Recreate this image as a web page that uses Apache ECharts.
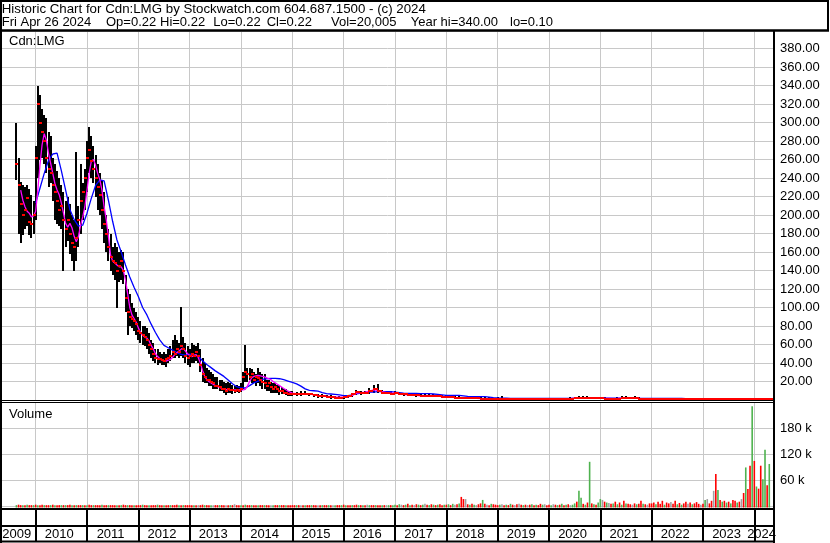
<!DOCTYPE html>
<html><head><meta charset="utf-8">
<script src="https://cdn.jsdelivr.net/npm/echarts@6/dist/echarts.min.js"></script>
<style>html,body{margin:0;padding:0;background:#fff}#c{width:830px;height:543px}</style>
</head><body><div id="c"></div>
<script>
// ================= DATA =================
const titleLine1 = 'Historic Chart for Cdn:LMG by Stockwatch.com 604.687.1500 - (c) 2024';
const infoFields = ['Fri Apr 26 2024', 'Op=0.22', 'Hi=0.22', 'Lo=0.22', 'Cl=0.22', 'Vol=20,005', 'Year hi=340.00', 'lo=0.10'];
const symbolLabel = 'Cdn:LMG';
const volumeLabel = 'Volume';
const yearTicks = [2010, 2011, 2012, 2013, 2014, 2015, 2016, 2017, 2018, 2019, 2020, 2021, 2022, 2023, 2024];
const yearLabels = ['2009', '2010', '2011', '2012', '2013', '2014', '2015', '2016', '2017', '2018', '2019', '2020', '2021', '2022', '2023', '2024'];
const axisStart = 2009.344, axisEnd = 2024.364;

// price bars, segment 1: half-monthly from Aug 2009
const seg1Start = 2009.625, seg1Step = 1 / 24;
const seg1High = [300,262,236,232,230,232,228,222,215,
 275,340,330,315,308,305,290,285,262,255,248,240,232,225,215,220,212,200,195,268,210,255,235,250,
 280,295,285,275,265,255,245,238,225,200,185,180,165,170,165,160,162,160,135,120,115,105,100,95,
 90,85,80,80,78,72,65,62,55,55,52,50,52,50,55,58,65,70,65,62,101,68,62,58,
 55,62,60,58,62,55,45,40,35,32,30,28,25,25,22,22,20,18,20,18,16,15,16,15,
 18,30,60,35,35,34,30,28,35,30,28,28,22,22,20,18,18,16,16,14,12,12,10,10];
const seg1Low = [238,180,170,178,185,188,178,175,180,
 195,240,260,262,255,245,230,235,215,195,190,188,185,140,165,172,158,150,140,150,165,180,195,205,
 225,245,240,235,220,205,200,185,170,160,150,140,135,130,100,128,130,125,95,70,80,78,75,70,
 65,62,60,58,55,50,45,42,40,38,40,38,38,36,40,42,45,45,48,45,48,45,40,38,
 36,40,40,42,40,30,20,18,18,15,15,12,12,12,10,10,8,5,8,8,7,8,9,8,
 9,12,20,20,22,18,18,15,18,15,12,12,10,10,8,8,8,8,5,6,6,5,4,4];
const seg1Close = [255,232,212,200,205,218,192,190,200,
 262,320,300,290,280,262,250,245,232,225,215,205,210,195,185,195,180,170,165,175,195,215,225,240,
 262,270,258,250,240,230,222,205,190,180,165,155,150,148,140,145,150,140,110,95,90,88,85,82,
 75,72,70,68,65,60,55,50,45,44,44,43,42,44,45,48,52,50,55,52,58,55,48,45,
 48,50,48,52,48,38,28,25,22,22,20,18,15,15,14,12,12,10,12,11,11,10,11,10,
 12,25,30,28,25,28,22,25,24,22,20,18,15,18,14,12,14,12,10,10,8,8,7,6];

// price bars, segment 2: monthly from Jan 2015
const seg2Start = 2015.0, seg2Step = 1 / 12;
const seg2High = [10,9,10,10,8,7,6,6,5,5,4,4,
 4,5,8,11,10,10,13,16,17,11,10,10,
 10,9,8,7,7,6,6,6,6,6,6,5,
 5,4.5,4,4,3.5,3.5,3.5,3,3,3,3,2.5,
 3.5,4,2.5,2.2,2,2,2,2,2,1.8,1.8,1.8,
 1.8,1.6,1.6,1.8,2.5,3,3.5,4,4,4,3.5,3,
 3,2.8,2.5,2.5,3,4,4,3.5,4,3,2.5,2.2,
 2,2,2,1.8,1.8,1.8,1.6,1.5,1.2,1,1,0.9,
 0.8,0.8,0.8,0.9,0.8,0.7,0.7,0.6,0.6,0.6,0.5,0.5,
 0.5,0.5,0.4,0.35,0.3];
const seg2Low = [4,4,4,5,4,3,2,2,2,1,1,1,
 1,2,3,5,5,6,7,8,8,6,6,5,
 6,5,4,4,4,3,3,3,3,3,3,2.5,
 2,2,1.5,1.5,1,1,1,1,0.8,0.8,0.8,0.6,
 0.6,0.8,0.6,0.6,0.5,0.5,0.5,0.5,0.5,0.4,0.4,0.4,
 0.4,0.3,0.3,0.3,0.5,0.8,1,1.2,1.5,1.5,1.2,1,
 1,1,1,1,1,1,1.2,1,1,0.8,0.7,0.6,
 0.6,0.6,0.5,0.5,0.5,0.5,0.5,0.4,0.3,0.3,0.3,0.3,
 0.25,0.25,0.2,0.2,0.2,0.2,0.2,0.15,0.15,0.15,0.12,0.12,
 0.1,0.1,0.12,0.15,0.15];
const seg2Close = [6,6,7,7,6,5,4,4,3,3,2.5,2.5,
 3,4,6,9,8,8,10,12,10,8,8,7,
 8,7,6,5,5,5,4.5,4,4,4.5,4,3.5,
 3,3,2.5,2.5,2,2,2,1.8,1.5,1.5,1.5,1.2,
 1.2,1.5,1.2,1,1,1,1,0.9,0.9,0.8,0.8,0.8,
 0.8,0.7,0.6,0.8,1.2,1.5,2,2.5,2.5,2.5,2,1.8,
 1.8,1.6,1.5,1.5,1.6,2,2.2,2,2,1.5,1.2,1.1,
 1,1,1,0.9,0.9,0.9,0.8,0.8,0.6,0.5,0.5,0.5,
 0.45,0.4,0.4,0.4,0.35,0.35,0.3,0.3,0.3,0.3,0.25,0.25,
 0.25,0.25,0.22,0.22,0.22];

// short moving average (magenta): half-monthly part then monthly part
const fastMA1Start = 2009.7083;
const fastMA1 = [227,216,209,204,202,198,199,
 204,227,254,276,288,281,267,256,245,234,227,222,213,202,191,187,191,186,177,171,177,189,198,209,
 227,245,258,260,254,245,238,227,209,195,177,157,150,148,146,144,144,140,130,115,100,92,88,84,
 78,73,70,68,67,64,59,55,50,47,45,43,42,42,43,44,46,49,51,53,55,56,53,50,
 48,47,48,49,46,40,32,26,22,20,18.5,17,15.5,14.5,13.5,12.6,12,11.5,11.2,11,10.8,10.8,10.8,10.8,
 11,11,11.5,15,20,24,25.5,26,26.5,26,25.5,25,24,23,22,20,18.5,17,15.5,14,12.5,11,9.5,8.5];
const fastMA2 = [7.5,7,7,7,6.5,5.5,5,4.5,4,3.5,3,3,
 3,3.5,5,7.5,8,8.5,9.5,11,10.5,9,8,7.5,
 7.5,7,6,5.5,5.2,5,4.6,4.3,4.2,4.3,4.2,3.8,
 3.3,3,2.7,2.5,2.2,2.1,2,1.9,1.6,1.5,1.5,1.3,
 1.3,1.4,1.3,1.1,1,1,1,0.95,0.9,0.9,0.85,0.85,
 0.85,0.8,0.75,0.8,1.1,1.4,1.9,2.3,2.5,2.5,2.2,1.9,
 1.8,1.7,1.6,1.5,1.6,1.9,2.1,2.1,2,1.7,1.3,1.1,
 1,1,1,0.95,0.9,0.9,0.85,0.8,0.65,0.55,0.5,0.5,
 0.45,0.42,0.4,0.4,0.37,0.35,0.32,0.3,0.3,0.3,0.27,0.25,
 0.25,0.25,0.23,0.22,0.22];

// long moving average (blue): monthly from Jan 2010
const slowMAStart = 2010.0, slowMAStep = 1 / 12;
const slowMA = [213,229,245,259,266,267,248,227,206,195,188,189,
 202,218,232,238,237,216,193,173,160,146,133,122,
 112,100,92,82,73,65,59,56.5,54,51.3,49.3,48.5,
 49.5,49,47.5,42.5,38.5,35,31.5,28.5,25.5,21.5,17.5,14.4,
 13.2,13,15.5,18.5,20.5,22.3,23,23.4,23.4,23,22,20.5,
 19,17.5,15,12,10.5,10,9.5,8,7,6.5,6,5.5,
 4.7,4.7,5.5,6.5,7.5,8,8.5,8.6,9,9,9,9,
 8.5,8,7.5,7.2,7.2,7.2,7,7,7,6.5,6,5.5,
 5,5,5,5,4.5,4,3.6,3.6,3.6,3.6,3.2,2.5,
 2.2,2,1.9,1.8,1.8,1.8,1.8,1.8,1.8,1.8,1.8,1.8,
 1.8,1.8,1.8,1.8,1.8,1.8,1.9,2,2.1,2.2,2.2,2.1,
 2.1,2,2,2,2,2,1.9,1.9,1.8,1.8,1.8,1.8,
 1.8,1.8,1.8,1.8,1.8,1.8,1.8,1.8,1.4,1.1,0.9,0.8,
 0.7,0.7,0.7,0.7,0.7,0.7,0.7,0.7,0.65,0.6,0.6,0.55,
 0.5,0.5,0.5,0.45,0.45];

// volume (thousands), half-monthly from Aug 2009; direction r=down g=up n=unchanged
const volStart = 2009.625, volStep = 1 / 24;
const volK = [2,3,2,2,2,3,2,2,2,
 3,2,2,3,2,2,2,2,3,2,2,2,2,2,2,2,3,2,2,2,2,2,2,2,
 2,3,2,2,2,2,2,3,2,2,2,2,2,2,2,2,2,3,2,2,2,2,2,2,
 2,2,3,2,2,2,2,2,2,3,2,2,2,2,2,2,2,2,3,2,2,2,2,2,
 2,2,2,2,2,2,3,2,2,2,2,2,2,2,2,2,2,2,2,2,2,4,2,2,
 2,2,3,2,2,2,2,2,2,2,2,2,2,2,2,2,2,2,2,2,2,2,2,2,
 2,2,2,2,2,2,2,2,2,2,2,2,2,2,2,2,2,2,2,2,2,2,2,2,
 3,2,2,2,2,2,3,2,2,2,2,3,2,2,2,2,2,2,2,2,2,2,2,2,
 3,2,4,3,2,3,5,2,3,2,4,3,2,3,5,3,2,4,3,2,3,4,2,3,
 3,4,2,5,3,4,6,21,16,16,4,3,5,3,2,4,6,14,5,3,2,5,4,3,
 2,3,4,2,3,2,5,3,2,4,5,3,2,3,2,3,4,2,3,2,5,3,4,2,
 3,2,4,3,2,3,5,2,3,4,2,3,6,10,35,19,5,3,8,102,6,4,3,8,
 16,14,10,8,7,5,6,10,4,8,3,12,6,5,4,3,6,4,5,12,5,4,3,6,
 6,8,4,10,5,12,3,8,6,9,5,12,4,7,3,6,10,5,8,4,6,9,5,3,
 5,14,16,6,12,35,74,37,14,10,12,8,10,6,14,12,8,10,16,30,89,39,93,230,
 104,45,40,93,62,130,48,97];
const volDir = ['grrgrgrrg',
 'rgrrgrrgrgrrgrgrrgrgrrgr',
 'grrgrrrgrrgrrrgrgrrgrrgr',
 'rrgrrgrrrgrrgrrgrrrgrgrr',
 'rrgrnrrgrrgnrrgrrnrgrnrr',
 'grgrrgrrgrrgrrngrrgrrgrr',
 'rrgrnrgrrgrrnrgrrgrngrrg',
 'rgrrgrrgrgrngrrgrrgrngrg',
 'grgnrgrgrnrgrgnrgrgrgrrg',
 'rgrgnrgrrnrgrgnrrgrnrgrr',
 'rgnrgrgrnrnrgrnrgrgrrgnr',
 'rgnrgrgrgrnggrggrgrgrgrg',
 'gnrgnrgrgrgrgrrnrgrrgrnr',
 'rrgrrrgrrnrrgrgrrnrgrrrn',
 'rgnrrnrgrgrgrgrrgrnrgrrg',
 'rgrrggrg'];

// ================= BUILD =================
const FONT = "'Liberation Sans', Arial, Helvetica, sans-serif";
const GRID_GRAY = '#c8c8c8';

const priceData = [];
seg1High.forEach((h, i) => priceData.push([seg1Start + i * seg1Step, h, seg1Low[i], seg1Close[i], seg1Step]));
seg2High.forEach((h, j) => priceData.push([seg2Start + j * seg2Step, h, seg2Low[j], seg2Close[j], seg2Step]));

const fastData = fastMA1.map((v, i) => [fastMA1Start + i * seg1Step, v])
  .concat(fastMA2.map((v, j) => [seg2Start + j * seg2Step, v]));
const slowData = slowMA.map((v, k) => [slowMAStart + k * slowMAStep, v]);

const dirs = volDir.join('');
const volData = volK.map((v, n) => [volStart + n * volStep, v * 1000, 'rgn'.indexOf(dirs[n])]);
const volColors = ['#ff0000', '#4fb24f', '#a0a0a0'];

const bounds = [axisStart].concat(yearTicks, [axisEnd]);
const labelPos = yearLabels.map((s, i) => (bounds[i] + bounds[i + 1]) / 2 - 0.04);

function xAx(gi, extra) {
  return Object.assign({
    type: 'value', gridIndex: gi, min: axisStart, max: axisEnd,
    axisLine: { show: false },
    axisTick: { show: false, customValues: yearTicks },
    axisLabel: { show: false },
    splitLine: { show: true, lineStyle: { color: GRID_GRAY, width: 1 } }
  }, extra || {});
}

const chart = echarts.init(document.getElementById('c'), null, { renderer: 'canvas', width: 830, height: 543 });

function hline(y, x1, x2, w) {
  return { type: 'line', silent: true, z: 100, shape: { x1: x1, y1: y, x2: x2, y2: y }, style: { stroke: '#000', lineWidth: w } };
}
function vline(x, y1, y2, w) {
  return { type: 'line', silent: true, z: 100, shape: { x1: x, y1: y1, x2: x, y2: y2 }, style: { stroke: '#000', lineWidth: w } };
}
function txt(s, x, y, size) {
  return { type: 'text', silent: true, z: 101, x: x, y: y,
    style: { text: s, fill: '#000', font: size + 'px ' + FONT, verticalAlign: 'top', align: 'left' } };
}
const infoX = [1.7, 106, 160, 213.3, 266.7, 331, 410.7, 510];

const graphics = [
  { type: 'rect', silent: true, z: 99, shape: { x: 0, y: 0, width: 830, height: 30 }, style: { fill: '#fff' } },
  hline(1, 0, 829, 2),
  hline(30.5, 0, 829, 2.5),
  vline(828, 0, 31, 2),
  vline(1, 0, 543, 2),
  vline(774, 30, 543, 2),
  hline(400.5, 0, 774, 1),
  hline(402.5, 0, 774, 1),
  hline(509, 0, 774, 2),
  hline(526, 0, 774, 2),
  hline(541.5, 0, 774, 2),
  txt(titleLine1, 1.7, 3, 13.3),
  txt(symbolLabel, 9, 35, 13),
  txt(volumeLabel, 9, 408, 13)
];
infoFields.forEach((s, i) => graphics.push(txt(s, infoX[i], 16.3, 13)));

function barGeom(api) {
  const t = api.value(0), hi = api.value(1), lo = api.value(2), cl = api.value(3), st = api.value(4);
  const pH = api.coord([t, hi]), pL = api.coord([t, lo]), pC = api.coord([t, cl]);
  const w = api.size([st, 0])[0];
  return { x: Math.round(pH[0]), top: Math.round(pH[1]), bot: Math.round(pL[1]), cy: Math.round(pC[1]), w: w };
}

const option = {
  animation: false,
  backgroundColor: '#fff',
  grid: [
    { left: 2, top: 31, width: 771, height: 369, outerBoundsMode: 'none', containLabel: false },
    { left: 2, top: 402, width: 771, height: 104, outerBoundsMode: 'none', containLabel: false },
    { left: 2, top: 510, width: 771, height: 31, outerBoundsMode: 'none', containLabel: false }
  ],
  xAxis: [
    xAx(0),
    xAx(1),
    xAx(2, {
      splitLine: { show: true, lineStyle: { color: '#000', width: 2 } },
      axisLabel: {
        show: true, inside: true, margin: 0, customValues: labelPos,
        color: '#000', fontFamily: FONT, fontSize: 13,
        formatter: function (v) {
          let best = 0;
          labelPos.forEach((p, i) => { if (Math.abs(p - v) < Math.abs(labelPos[best] - v)) best = i; });
          return yearLabels[best];
        }
      }
    })
  ],
  yAxis: [
    {
      type: 'value', gridIndex: 0, position: 'right', min: 0, max: 399, interval: 20,
      axisLine: { show: false }, axisTick: { show: false },
      axisLabel: {
        color: '#000', fontFamily: FONT, fontSize: 13, margin: 7,
        formatter: function (v) { return (v <= 0 || v > 390) ? '' : v.toFixed(2); }
      },
      splitLine: { show: true, lineStyle: { color: GRID_GRAY, width: 1 } }
    },
    {
      type: 'value', gridIndex: 1, position: 'right', min: 0, max: 240000, interval: 60000,
      axisLine: { show: false }, axisTick: { show: false },
      axisLabel: {
        color: '#000', fontFamily: FONT, fontSize: 13, margin: 7,
        formatter: function (v) { return (v <= 0 || v >= 240000) ? '' : (v / 1000) + ' k'; }
      },
      splitLine: { show: true, lineStyle: { color: GRID_GRAY, width: 1 } }
    },
    { type: 'value', gridIndex: 2, show: false, min: 0, max: 1, splitLine: { show: false } }
  ],
  series: [
    {
      type: 'custom', name: 'priceRange', xAxisIndex: 0, yAxisIndex: 0, z: 2,
      data: priceData, encode: { x: 0, y: [1, 2, 3] },
      renderItem: function (params, api) {
        const g = barGeom(api);
        const bot = Math.max(g.bot, g.top + 1);
        return { type: 'rect', shape: { x: g.x - 1, y: g.top, width: 2, height: bot - g.top }, style: { fill: '#000' } };
      }
    },
    {
      type: 'line', name: 'slow', xAxisIndex: 0, yAxisIndex: 0, z: 3, data: slowData,
      showSymbol: false, symbol: 'none', silent: true,
      lineStyle: { color: '#0000ff', width: 1.3 }
    },
    {
      type: 'line', name: 'fast', xAxisIndex: 0, yAxisIndex: 0, z: 4, data: fastData,
      showSymbol: false, symbol: 'none', silent: true,
      lineStyle: { color: '#ff00ff', width: 1.3 }
    },
    {
      type: 'custom', name: 'priceClose', xAxisIndex: 0, yAxisIndex: 0, z: 5,
      data: priceData, encode: { x: 0, y: [1, 2, 3] },
      renderItem: function (params, api) {
        const g = barGeom(api);
        const yTop = Math.min(g.cy - 1, 398);
        return { type: 'rect', shape: { x: g.x - 1, y: yTop, width: Math.max(2, Math.ceil(g.w)), height: 2 }, style: { fill: '#ff0000' } };
      }
    },
    {
      type: 'custom', name: 'volume', xAxisIndex: 1, yAxisIndex: 1, z: 2,
      data: volData, encode: { x: 0, y: 1 },
      renderItem: function (params, api) {
        const t = api.value(0), v = api.value(1), d = api.value(2);
        const p = api.coord([t, v]), p0 = api.coord([t, 0]);
        return { type: 'rect', shape: { x: p[0] - 0.8, y: p[1], width: 1.6, height: p0[1] - p[1] + 1.5 },
          style: { fill: volColors[d] } };
      }
    }
  ],
  graphic: graphics
};
chart.setOption(option);
</script>
</body></html>
